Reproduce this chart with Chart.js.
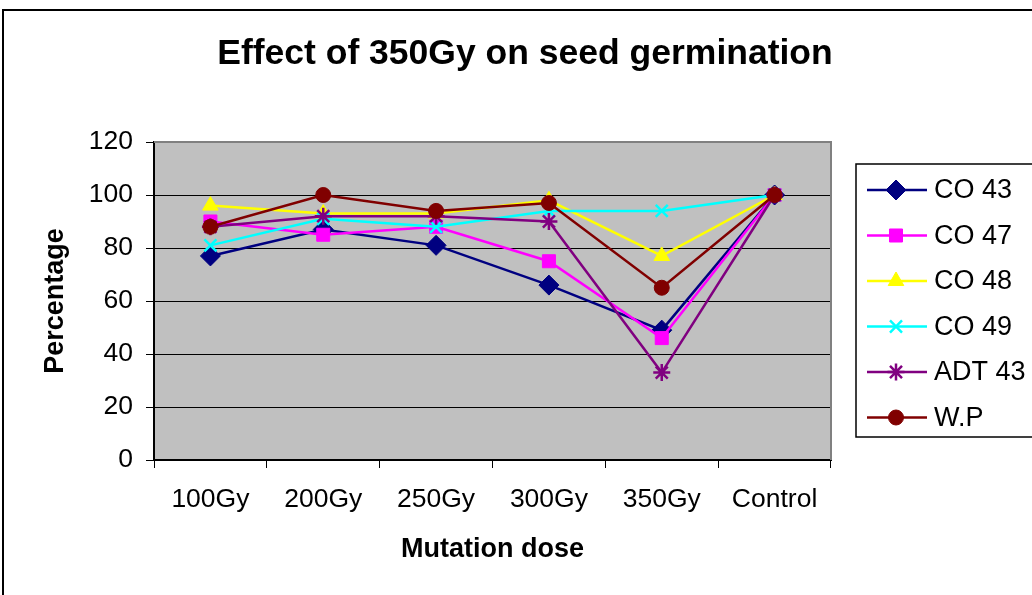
<!DOCTYPE html>
<html>
<head>
<meta charset="utf-8">
<script src="https://cdn.jsdelivr.net/npm/chart.js@4/dist/chart.umd.min.js"></script>
<style>
  html, body { margin: 0; padding: 0; background: #fff; }
  #wrap { position: relative; width: 1032px; height: 595px; }
</style>
</head>
<body>
<div id="wrap"><canvas id="c" width="1032" height="595"></canvas></div>
<script>
const chartTitle = 'Effect of 350Gy on seed germination';
const xTitle = 'Mutation dose';
const yTitle = 'Percentage';
const categories = ['100Gy', '200Gy', '250Gy', '300Gy', '350Gy', 'Control'];
const seriesNames = ['CO 43', 'CO 47', 'CO 48', 'CO 49', 'ADT 43', 'W.P'];
const co43 = [77, 87, 81, 66, 49, 100];
const co47 = [90, 85, 88, 75, 46, 100];
const co48 = [96, 93, 93, 98, 77, 100];
const co49 = [81, 91, 88, 94, 94, 100];
const adt43 = [88, 92, 92, 90, 33, 100];
const wp = [88, 100, 94, 97, 65, 100];
const yTicks = [0, 20, 40, 60, 80, 100, 120];

const seriesValues = [co43, co47, co48, co49, adt43, wp];
const colors = ['#000080', '#FF00FF', '#FFFF00', '#00FFFF', '#800080', '#800000'];
const markers = ['rectRot', 'rect', 'triangle', 'crossRot', 'star', 'circle'];
const radii = [10, 9.2, 9, 8.5, 8.5, 7.5];

const FONT = '"Liberation Sans", Arial, sans-serif';

const datasets = seriesValues.map((vals, i) => ({
  label: seriesNames[i],
  data: vals,
  borderColor: colors[i],
  backgroundColor: colors[i],
  pointBackgroundColor: colors[i],
  pointBorderColor: colors[i],
  pointStyle: markers[i],
  pointRadius: radii[i],
  pointBorderWidth: (markers[i] === 'crossRot' || markers[i] === 'star') ? 2.5 : 1,
  borderWidth: 2.5,
  tension: 0,
  fill: false,
  order: seriesValues.length - 1 - i
}));

const decor = {
  id: 'decor',
  beforeDraw(chart) {
    const { ctx, chartArea: a } = chart;
    ctx.save();
    ctx.fillStyle = '#fff';
    ctx.fillRect(0, 0, chart.width, chart.height);
    ctx.fillStyle = '#C0C0C0';
    ctx.fillRect(a.left, a.top, a.right - a.left, a.bottom - a.top);
    ctx.restore();
  },
  beforeDatasetsDraw(chart) {
    const { ctx, chartArea: a } = chart;
    ctx.save();
    ctx.strokeStyle = '#808080';
    ctx.lineWidth = 2;
    ctx.beginPath();
    ctx.moveTo(a.left, a.top);
    ctx.lineTo(a.right, a.top);
    ctx.lineTo(a.right, a.bottom);
    ctx.stroke();
    ctx.restore();
  },
  afterDraw(chart) {
    const { ctx } = chart;
    ctx.save();
    // outer border
    ctx.strokeStyle = '#000';
    ctx.lineWidth = 2;
    ctx.strokeRect(3, 10, 1100, 700);
    // title
    ctx.fillStyle = '#000';
    ctx.font = 'bold 35.5px ' + FONT;
    ctx.textAlign = 'center';
    ctx.textBaseline = 'middle';
    ctx.fillText(chartTitle, 525, 54);
    // legend
    const lx = 856, ly = 164, lh = 273;
    ctx.lineWidth = 1.5;
    ctx.strokeStyle = '#000';
    ctx.fillStyle = '#fff';
    ctx.fillRect(lx, ly, 200, lh);
    ctx.strokeRect(lx, ly, 200, lh);
    ctx.font = '27px ' + FONT;
    ctx.textAlign = 'left';
    chart.data.datasets.forEach((ds, i) => {
      const y = 190 + i * 45.5;
      ctx.strokeStyle = ds.borderColor;
      ctx.lineWidth = 2.5;
      ctx.beginPath();
      ctx.moveTo(867, y);
      ctx.lineTo(927, y);
      ctx.stroke();
      ctx.fillStyle = ds.pointBackgroundColor;
      ctx.strokeStyle = ds.pointBorderColor;
      ctx.lineWidth = ds.pointBorderWidth;
      Chart.helpers.drawPoint(ctx, { pointStyle: ds.pointStyle, radius: ds.pointRadius, rotation: 0, borderWidth: ds.pointBorderWidth }, 896, y);
      ctx.fillStyle = '#000';
      ctx.fillText(ds.label, 934, y + 1);
    });
    ctx.restore();
  }
};

new Chart(document.getElementById('c'), {
  type: 'line',
  data: { labels: categories, datasets },
  plugins: [decor],
  options: {
    responsive: false,
    animation: false,
    layout: { padding: { top: 142, left: 0, right: 201, bottom: 0 } },
    plugins: { legend: { display: false }, title: { display: false }, tooltip: { enabled: false } },
    scales: {
      x: {
        offset: true,
        grid: { offset: true, drawOnChartArea: false, color: '#000', lineWidth: 1, tickLength: 8 },
        border: { color: '#000', width: 2 },
        ticks: { color: '#000', font: { family: FONT, size: 26.5 }, padding: 16, maxRotation: 0, autoSkip: false },
        title: { display: true, text: xTitle, color: '#000', font: { family: FONT, size: 27, weight: 'bold' }, padding: { top: 0, bottom: 29 } },
        afterFit(s) { s.height = 135; }
      },
      y: {
        min: 0, max: 120,
        afterBuildTicks(s) { s.ticks = yTicks.map(v => ({ value: v })); },
        grid: { color: '#000', lineWidth: 1, tickLength: 8 },
        border: { color: '#000', width: 2 },
        ticks: { color: '#000', font: { family: FONT, size: 26.5 }, padding: 13 },
        title: { display: true, text: yTitle, color: '#000', font: { family: FONT, size: 27, weight: 'bold' }, padding: { top: 39, bottom: 0 } },
        afterFit(s) { s.width = 154; }
      }
    }
  }
});
</script>
</body>
</html>
